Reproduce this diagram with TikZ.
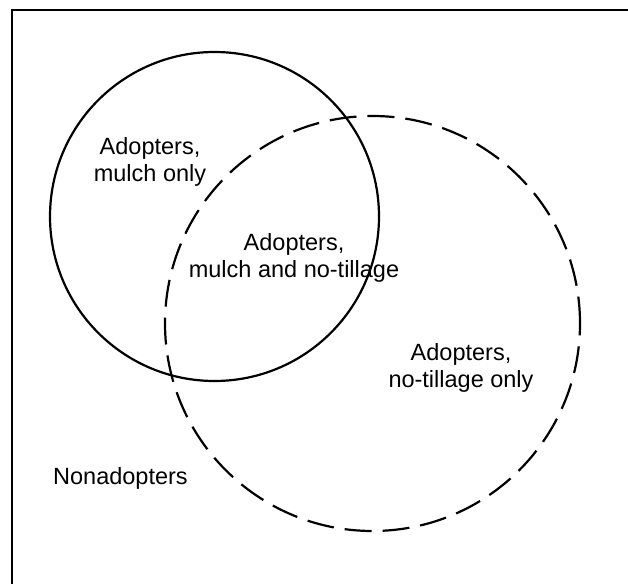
\documentclass[tikz,border=0pt]{standalone}
\usepackage{fontspec}
\setmainfont{Liberation Sans}
\begin{document}
\begin{tikzpicture}[x=1pt,y=1pt,
  ring/.style={circle, draw, line width=2.2pt, inner sep=0pt, outer sep=0pt},
  lbl/.style={align=center, font=\fontsize{23.5}{27}\selectfont, inner sep=0pt}]
\useasboundingbox (0,0) rectangle (628,583);
\draw[line width=2.4pt] (12,-5) -- (12,573) -- (640,573);
\node[ring, minimum size=329pt] (mulch) at (214.5,366.5) {};
\node[ring, minimum size=415pt, dash pattern=on 27pt off 11pt] (notill) at (372.5,259.5) {};
\node[lbl] (mo) at (150,421) {Adopters,\\mulch only};
\node[lbl] (both) at (294,325) {Adopters,\\mulch and no-tillage};
\node[lbl] (no) at (461,215) {Adopters,\\no-tillage only};
\node[lbl, anchor=west] (non) at (53,105) {Nonadopters};
\end{tikzpicture}
\end{document}
